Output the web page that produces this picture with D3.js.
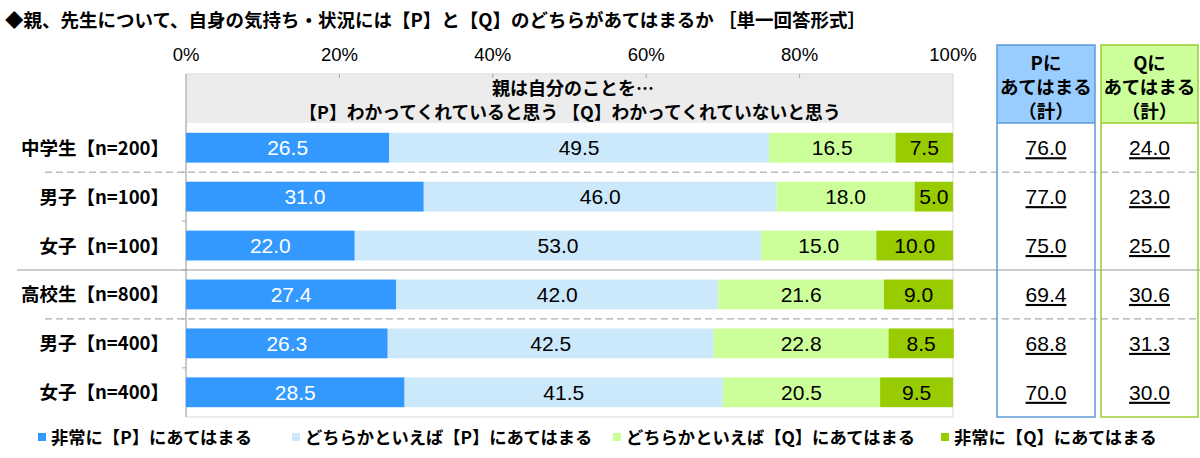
<!DOCTYPE html>
<html>
<head>
<meta charset="utf-8">
<script src="https://cdn.jsdelivr.net/npm/d3@7"></script>
<style>
  body { margin: 0; background: #fff; }
  svg text { font-family: "Noto Sans CJK JP", sans-serif; }
  svg text.num { font-family: "Liberation Sans", Arial, sans-serif; }
</style>
</head>
<body>
<svg id="chart" width="1200" height="458"></svg>
<script>
// rows of the chart, top to bottom
const categories = ["中学生【n=200】", "男子【n=100】", "女子【n=100】",
                    "高校生【n=800】", "男子【n=400】", "女子【n=400】"];
const seriesNames = ["非常に【P】にあてはまる", "どちらかといえば【P】にあてはまる",
                     "どちらかといえば【Q】にあてはまる", "非常に【Q】にあてはまる"];
const veryP   = [26.5, 31.0, 22.0, 27.4, 26.3, 28.5];
const ratherP = [49.5, 46.0, 53.0, 42.0, 42.5, 41.5];
const ratherQ = [16.5, 18.0, 15.0, 21.6, 22.8, 20.5];
const veryQ   = [7.5, 5.0, 10.0, 9.0, 8.5, 9.5];
const totalP  = ["76.0", "77.0", "75.0", "69.4", "68.8", "70.0"];
const totalQ  = ["24.0", "23.0", "25.0", "30.6", "31.3", "30.0"];
const tickValues = [0, 20, 40, 60, 80, 100];

const colors = ["#3399ff", "#cce9fb", "#ccff99", "#99cc00"];
const textColors = ["#fff", "#000", "#000", "#000"];

const svg = d3.select("#chart");

const x = d3.scaleLinear().domain([0, 100]).range([186, 953]);
const y = d3.scaleBand().domain(categories).range([123, 417]).paddingInner(0.39).paddingOuter(0.2);

// title
svg.append("text")
  .attr("x", 5).attr("y", 27)
  .attr("font-size", 18.5).attr("font-weight", "bold")
  .text("◆親、先生について、自身の気持ち・状況には【P】と【Q】のどちらがあてはまるか ［単一回答形式］");

// percent ticks along the top
svg.append("g").selectAll("text").data(tickValues).join("text")
  .attr("class", "num")
  .attr("x", d => x(d)).attr("y", 61)
  .attr("text-anchor", "middle").attr("font-size", 18.5)
  .text(d => d + "%");

// grey header band
svg.append("rect")
  .attr("x", x(0)).attr("y", 74)
  .attr("width", x(100) - x(0)).attr("height", 49)
  .attr("fill", "#ececec");
svg.append("text")
  .attr("x", 573).attr("y", 95)
  .attr("text-anchor", "middle").attr("font-size", 18).attr("font-weight", "bold")
  .text("親は自分のことを…");
svg.append("text")
  .attr("x", 570).attr("y", 119)
  .attr("text-anchor", "middle").attr("font-size", 17.8).attr("font-weight", "bold")
  .text("【P】わかってくれていると思う 【Q】わかってくれていないと思う");

// plot frame
svg.append("path")
  .attr("d", `M${x(0)},74H${x(100)}V417H${x(0)}Z`)
  .attr("fill", "none").attr("stroke", "#d9d9d9");
svg.append("line")
  .attr("x1", x(0)).attr("x2", x(0)).attr("y1", 74).attr("y2", 417)
  .attr("stroke", "#a6a6a6");
svg.append("g").selectAll("line").data(tickValues.slice(1, -1)).join("line")
  .attr("x1", d => x(d)).attr("x2", d => x(d)).attr("y1", 74).attr("y2", 78)
  .attr("stroke", "#a6a6a6");

// stacked bars
const rows = categories.map((c, i) => {
  const vals = [veryP[i], ratherP[i], ratherQ[i], veryQ[i]];
  let acc = 0;
  return vals.map((v, k) => {
    const seg = { cat: c, k: k, v: v, x0: acc, x1: acc + v };
    acc += v;
    return seg;
  });
});
const segs = rows.flat();

svg.append("g").selectAll("rect").data(segs).join("rect")
  .attr("x", d => x(d.x0)).attr("y", d => y(d.cat))
  .attr("width", d => x(d.x1) - x(d.x0)).attr("height", y.bandwidth())
  .attr("fill", d => colors[d.k]);

svg.append("g").selectAll("text").data(segs).join("text")
  .attr("class", "num")
  .attr("x", d => (x(d.x0) + x(d.x1)) / 2)
  .attr("y", d => y(d.cat) + y.bandwidth() / 2 + 7.5)
  .attr("text-anchor", "middle").attr("font-size", 21)
  .attr("fill", d => textColors[d.k])
  .text(d => d.v.toFixed(1));

// row labels
svg.append("g").selectAll("text").data(categories).join("text")
  .attr("x", 169).attr("y", d => y(d) + y.bandwidth() / 2 + 7)
  .attr("text-anchor", "end").attr("font-size", 18.5).attr("font-weight", "bold")
  .text(d => d);

// separators
const step = y.step();
const boundary = i => y(categories[i]) - (step - y.bandwidth()) / 2;
svg.append("line")
  .attr("x1", 45).attr("x2", 1200).attr("y1", boundary(1)).attr("y2", boundary(1))
  .attr("stroke", "#999").attr("stroke-dasharray", "7,4");
svg.append("line")
  .attr("x1", 45).attr("x2", 1200).attr("y1", boundary(4)).attr("y2", boundary(4))
  .attr("stroke", "#999").attr("stroke-dasharray", "7,4");
svg.append("line")
  .attr("x1", 17).attr("x2", 1200).attr("y1", boundary(3)).attr("y2", boundary(3))
  .attr("stroke", "#999");
svg.append("g").selectAll("line").data([1, 2, 3, 4, 5]).join("line")
  .attr("x1", x(0) - 4).attr("x2", x(0)).attr("y1", d => boundary(d)).attr("y2", d => boundary(d))
  .attr("stroke", "#a6a6a6");

// totals table
const table = [
  { x0: 997, x1: 1095, head: ["Pに", "あてはまる", "（計）"], fill: "#99ccff", stroke: "#5b9bd5", vals: totalP },
  { x0: 1101, x1: 1198, head: ["Qに", "あてはまる", "（計）"], fill: "#ccff99", stroke: "#99cc33", vals: totalQ }
];
const tg = svg.append("g").selectAll("g").data(table).join("g");
tg.append("rect")
  .attr("x", d => d.x0).attr("y", 45).attr("width", d => d.x1 - d.x0).attr("height", 78)
  .attr("fill", d => d.fill);
tg.append("rect")
  .attr("x", d => d.x0).attr("y", 45).attr("width", d => d.x1 - d.x0).attr("height", 372)
  .attr("fill", "none").attr("stroke", d => d.stroke).attr("stroke-width", 1.5);
tg.append("line")
  .attr("x1", d => d.x0).attr("x2", d => d.x1).attr("y1", 123).attr("y2", 123)
  .attr("stroke", d => d.stroke).attr("stroke-width", 1.5);
tg.each(function(d) {
  const g = d3.select(this);
  const cx = (d.x0 + d.x1) / 2;
  g.selectAll("text.h").data(d.head).join("text")
    .attr("class", "h")
    .attr("x", cx).attr("y", (h, i) => 70 + i * 24)
    .attr("text-anchor", "middle").attr("font-size", 18.5).attr("font-weight", "bold")
    .text(h => h);
  g.selectAll("text.v").data(d.vals.map((v, i) => ({ v: v, cat: categories[i] }))).join("text")
    .attr("class", "v num")
    .attr("x", cx).attr("y", v => y(v.cat) + y.bandwidth() / 2 + 7.5)
    .attr("text-anchor", "middle").attr("font-size", 21)
    .attr("text-decoration", "underline")
    .text(v => v.v);
});

// legend
const legendX = [38, 292, 613, 941];
const lg = svg.append("g").selectAll("g").data(seriesNames).join("g")
  .attr("transform", (d, i) => `translate(${legendX[i]},444)`);
lg.append("rect")
  .attr("x", 0).attr("y", -11).attr("width", 8).attr("height", 8)
  .attr("fill", (d, i) => colors[i]);
lg.append("text")
  .attr("x", 13).attr("y", 0)
  .attr("font-size", 17.3).attr("font-weight", "bold")
  .text(d => d);
</script>
</body>
</html>
